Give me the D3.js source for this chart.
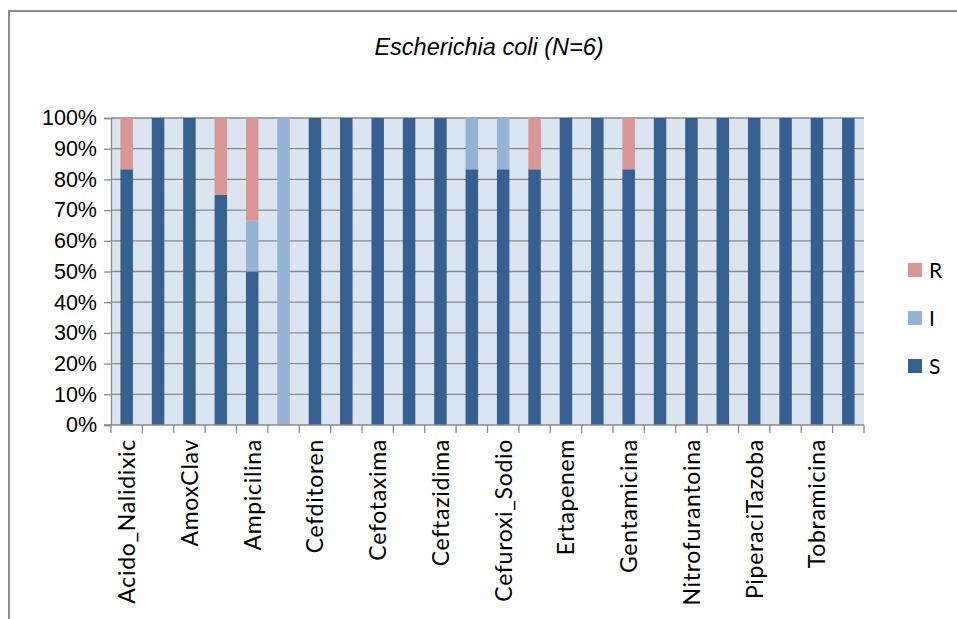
<!DOCTYPE html>
<html>
<head>
<meta charset="utf-8">
<script src="https://cdn.jsdelivr.net/npm/d3@7"></script>
<style>
  body { margin: 0; background: #fff; }
  svg { display: block; }
</style>
</head>
<body>
<svg id="chart" width="957" height="619"></svg>
<script>
const categories = ["Acido_Nalidixic","Amikacina","AmoxClav","Amoxicilina","Ampicilina","Cefazolina",
  "Cefditoren","Cefepime","Cefotaxima","Cefoxitina","Ceftazidima","Ceftriaxona",
  "Cefuroxi_Sodio","Ciprofloxacino","Ertapenem","Fosfomicina","Gentamicina","Imipenem",
  "Nitrofurantoina","Norfloxacino","PiperaciTazoba","Tigeciclina","Tobramicina","Trimet_Sulfa"];
const valuesS = [83.3,100,100,75,50,0,100,100,100,100,100,83.3,83.3,83.3,100,100,83.3,100,100,100,100,100,100,100];
const valuesI = [0,0,0,0,16.7,100,0,0,0,0,0,16.7,16.7,0,0,0,0,0,0,0,0,0,0,0];
const valuesR = [16.7,0,0,25,33.3,0,0,0,0,0,0,0,0,16.7,0,0,16.7,0,0,0,0,0,0,0];
const seriesNames = ["S","I","R"];
const yTicks = [0,10,20,30,40,50,60,70,80,90,100];
const title = "Escherichia coli (N=6)";
const colors = {S: "#366092", I: "#95b3d7", R: "#d99694"};

const rows = categories.map((c, i) => ({cat: c, S: valuesS[i], I: valuesI[i], R: valuesR[i]}));

const svg = d3.select("#chart");
const L = 111, Rt = 864, T = 118, B = 425;

// outer border
svg.append("path").attr("d", "M9,619 L9,11 L957,11")
  .attr("fill", "none").attr("stroke", "#8c8c8c").attr("stroke-width", 2);

// title
svg.append("text").attr("x", 489).attr("y", 55).attr("text-anchor", "middle")
  .attr("font-family", "Liberation Sans, Arial, sans-serif").attr("font-style", "italic")
  .attr("font-size", 23.5).attr("fill", "#000").text(title);

const x = d3.scaleBand().domain(categories).range([L, Rt]);
const y = d3.scaleLinear().domain([0, 100]).range([B, T]);

// plot background
svg.append("rect").attr("x", L).attr("y", T).attr("width", Rt - L).attr("height", B - T).attr("fill", "#dbe5f1");

// gridlines
svg.append("g").selectAll("line").data(yTicks.filter(d => d > 0)).join("line")
  .attr("x1", L).attr("x2", Rt).attr("y1", d => y(d)).attr("y2", d => y(d))
  .attr("stroke", "#8a8a8a").attr("stroke-width", 1.3);

// bars
const stack = d3.stack().keys(seriesNames)(rows);
const barW = 12.5;
svg.append("g").selectAll("g").data(stack).join("g").attr("fill", d => colors[d.key])
  .selectAll("rect").data(d => d).join("rect")
  .attr("x", d => x(d.data.cat) + x.bandwidth() / 2 - barW / 2)
  .attr("width", barW)
  .attr("y", d => y(d[1]))
  .attr("height", d => y(d[0]) - y(d[1]));

// y axis
const yAxis = svg.append("g").attr("transform", `translate(${L},0)`)
  .call(d3.axisLeft(y).tickValues(yTicks).tickSize(7).tickPadding(7).tickFormat(d => d + "%"));
yAxis.select(".domain").attr("stroke", "#8a8a8a").attr("stroke-width", 1.3);
yAxis.selectAll(".tick line").attr("stroke", "#8a8a8a").attr("stroke-width", 1.3);
yAxis.selectAll("text").attr("font-family", "Liberation Sans, Arial, sans-serif").attr("font-size", 21.5).attr("fill", "#000");

// x axis line
svg.append("line").attr("x1", L - 7).attr("x2", Rt).attr("y1", B).attr("y2", B)
  .attr("stroke", "#8a8a8a").attr("stroke-width", 1.3);
// x ticks at category boundaries
const bounds = categories.map(c => x(c)).concat([Rt]);
svg.append("g").selectAll("line").data(bounds).join("line")
  .attr("x1", d => d).attr("x2", d => d).attr("y1", B).attr("y2", B + 8)
  .attr("stroke", "#8a8a8a").attr("stroke-width", 1.3);

// x labels (every other)
svg.append("g").selectAll("text").data(categories.filter((c, i) => i % 2 === 0)).join("text")
  .attr("transform", d => `translate(${x(d) + x.bandwidth() / 2 + 8.5},439) rotate(-90)`)
  .attr("text-anchor", "end")
  .attr("font-family", "Lato, Open Sans, sans-serif").attr("font-size", 23).attr("letter-spacing", 0.7).attr("fill", "#000")
  .text(d => d);

// legend
const legendItems = ["R", "I", "S"];
const lg = svg.append("g").selectAll("g").data(legendItems).join("g")
  .attr("transform", (d, i) => `translate(908,${263 + i * 48})`);
lg.append("rect").attr("width", 14).attr("height", 14).attr("fill", d => colors[d]);
lg.append("text").attr("x", 21).attr("y", 15).attr("font-family", "Lato, Open Sans, sans-serif")
  .attr("font-size", 21).attr("fill", "#000").text(d => d);
</script>
</body>
</html>
